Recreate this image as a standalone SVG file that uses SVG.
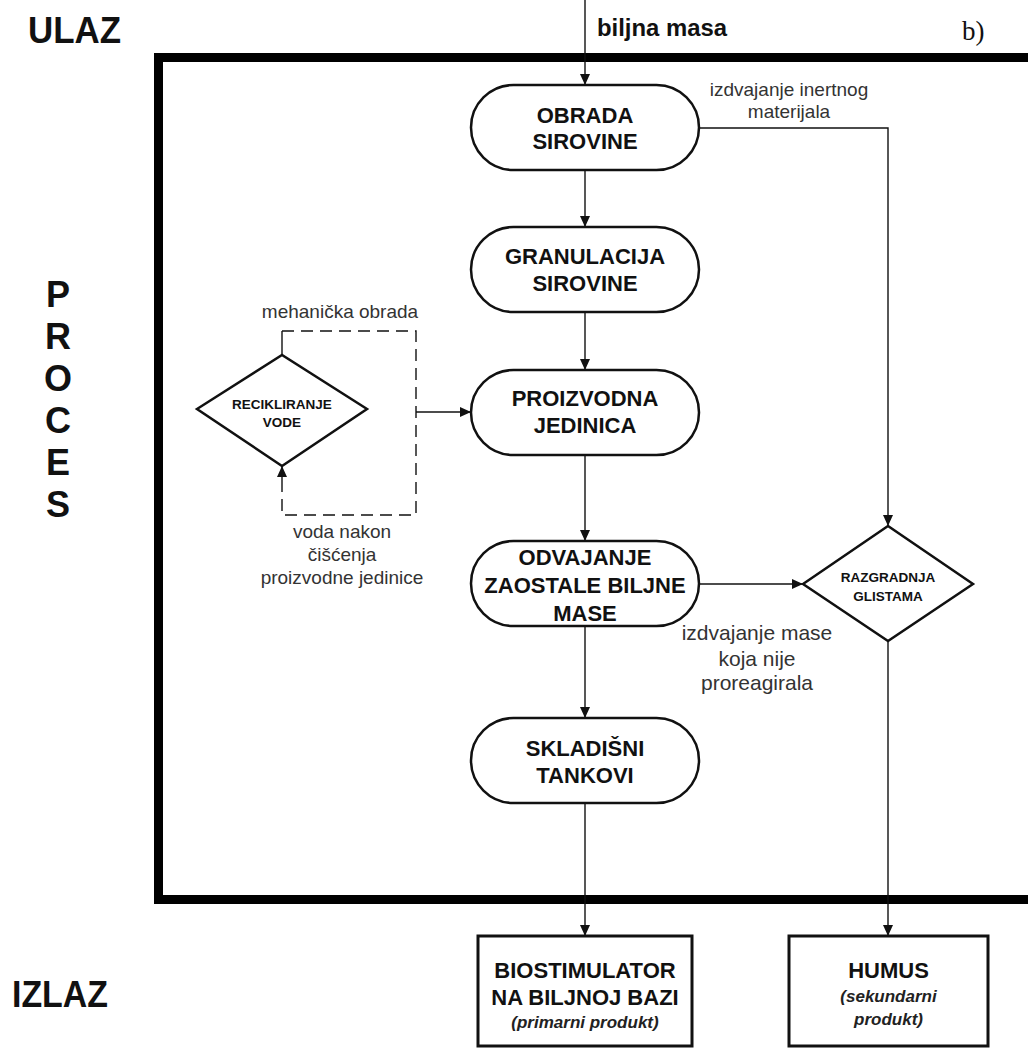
<svg xmlns="http://www.w3.org/2000/svg" width="1028" height="1048" viewBox="0 0 1028 1048">
<style>
  .node { fill: #fff; stroke: #111; stroke-width: 2.5; }
  .box { fill: #fff; stroke: #111; stroke-width: 3; }
  .t { font-family: "Liberation Sans", Arial, sans-serif; font-weight: bold; font-size: 22px; fill: #111; text-anchor: middle; }
  .ts { font-family: "Liberation Sans", Arial, sans-serif; font-weight: bold; font-size: 13.5px; fill: #111; text-anchor: middle; }
  .lab { font-family: "Liberation Sans", Arial, sans-serif; font-size: 19px; fill: #333; text-anchor: middle; }
  .lab2 { font-family: "Liberation Sans", Arial, sans-serif; font-size: 21px; fill: #333; text-anchor: middle; }
  .it { font-family: "Liberation Sans", Arial, sans-serif; font-weight: bold; font-style: italic; font-size: 17px; fill: #222; text-anchor: middle; }
  .big { font-family: "Liberation Sans", Arial, sans-serif; font-weight: bold; font-size: 36px; fill: #111; }
  .side { font-family: "Liberation Sans", Arial, sans-serif; font-weight: bold; font-size: 36px; fill: #111; text-anchor: middle; }
  .ln { fill: none; stroke: #111; stroke-width: 1.4; }
  .dash { fill: none; stroke: #111; stroke-width: 1.4; stroke-dasharray: 12 7; }
</style>
<defs>
  <marker id="ah" markerUnits="userSpaceOnUse" markerWidth="12" markerHeight="10" refX="11" refY="5" orient="auto">
    <path d="M0,0 L11,5 L0,10 z" fill="#111"/>
  </marker>
</defs>
<rect width="1028" height="1048" fill="#fff"/>

<!-- frame -->
<rect x="158.5" y="57.5" width="900" height="842" fill="none" stroke="#000" stroke-width="9"/>

<!-- side labels -->
<g id="labels">
  <text class="big" x="28" y="43" textLength="93" lengthAdjust="spacingAndGlyphs">ULAZ</text>
  <text class="big" x="12" y="1007" textLength="96" lengthAdjust="spacingAndGlyphs">IZLAZ</text>
  <text x="962" y="40" font-family="Liberation Serif, 'Times New Roman', serif" font-size="27" fill="#111">b)</text>
  <text class="t" x="597" y="36" style="text-anchor:start;font-size:23px" textLength="130" lengthAdjust="spacingAndGlyphs">biljna masa</text>
  <text class="side" x="58" y="307">P</text>
  <text class="side" x="58" y="349">R</text>
  <text class="side" x="58" y="391">O</text>
  <text class="side" x="58" y="433">C</text>
  <text class="side" x="58" y="475">E</text>
  <text class="side" x="58" y="517">S</text>
</g>

<!-- connectors -->
<g id="connectors">
  <line class="ln" x1="585" y1="0" x2="585" y2="85" marker-end="url(#ah)"/>
  <line class="ln" x1="585" y1="170" x2="585" y2="227" marker-end="url(#ah)"/>
  <line class="ln" x1="585" y1="312" x2="585" y2="370" marker-end="url(#ah)"/>
  <line class="ln" x1="585" y1="455" x2="585" y2="541" marker-end="url(#ah)"/>
  <line class="ln" x1="585" y1="626" x2="585" y2="718" marker-end="url(#ah)"/>
  <line class="ln" x1="585" y1="803" x2="585" y2="936" marker-end="url(#ah)"/>
  <polyline class="ln" points="699,128 888,128 888,526" marker-end="url(#ah)"/>
  <line class="ln" x1="699" y1="584" x2="803" y2="584" marker-end="url(#ah)"/>
  <line class="ln" x1="888" y1="641" x2="888" y2="936" marker-end="url(#ah)"/>
  <line class="ln" x1="282" y1="355" x2="282" y2="331"/>
  <polyline class="dash" points="282,331 416,331 416,515 282,515 282,478"/>
  <line class="ln" x1="282" y1="480" x2="282" y2="466" marker-end="url(#ah)"/>
  <line class="ln" x1="416" y1="412" x2="471" y2="412" marker-end="url(#ah)"/>
  <text class="lab" x="789" y="96">izdvajanje inertnog</text>
  <text class="lab" x="789" y="118">materijala</text>
  <text class="lab" x="340" y="318">mehanička obrada</text>
  <text class="lab" x="342" y="538">voda nakon</text>
  <text class="lab" x="342" y="561">čišćenja</text>
  <text class="lab" x="342" y="584">proizvodne jedinice</text>
  <text class="lab2" x="757" y="640">izdvajanje mase</text>
  <text class="lab2" x="757" y="666">koja nije</text>
  <text class="lab2" x="757" y="690">proreagirala</text>
</g>

<g id="obrada">
  <rect class="node" x="471" y="85" width="228" height="85" rx="42.5"/>
  <text class="t" x="585" y="123">OBRADA</text>
  <text class="t" x="585" y="149">SIROVINE</text>
</g>
<g id="granulacija">
  <rect class="node" x="471" y="227" width="228" height="85" rx="42.5"/>
  <text class="t" x="585" y="264">GRANULACIJA</text>
  <text class="t" x="585" y="291">SIROVINE</text>
</g>
<g id="proizvodna">
  <rect class="node" x="471" y="370" width="228" height="85" rx="42.5"/>
  <text class="t" x="585" y="406">PROIZVODNA</text>
  <text class="t" x="585" y="433">JEDINICA</text>
</g>
<g id="odvajanje">
  <rect class="node" x="471" y="541" width="228" height="85" rx="42.5"/>
  <text class="t" x="585" y="565">ODVAJANJE</text>
  <text class="t" x="585" y="593">ZAOSTALE BILJNE</text>
  <text class="t" x="585" y="621">MASE</text>
</g>
<g id="skladisni">
  <rect class="node" x="471" y="718" width="228" height="85" rx="42.5"/>
  <text class="t" x="585" y="756">SKLADIŠNI</text>
  <text class="t" x="585" y="783">TANKOVI</text>
</g>
<g id="recikliranje">
  <polygon class="node" points="197,409 282,355 367,409 282,466"/>
  <text class="ts" x="282" y="409">RECIKLIRANJE</text>
  <text class="ts" x="282" y="427">VODE</text>
</g>
<g id="razgradnja">
  <polygon class="node" points="803,584 888,526 973,584 888,641"/>
  <text class="ts" x="888" y="582">RAZGRADNJA</text>
  <text class="ts" x="888" y="601">GLISTAMA</text>
</g>
<g id="biostimulator">
  <rect class="box" x="478" y="936" width="214" height="110"/>
  <text class="t" x="585" y="978">BIOSTIMULATOR</text>
  <text class="t" x="585" y="1005">NA BILJNOJ BAZI</text>
  <text class="it" x="585" y="1028">(primarni produkt)</text>
</g>
<g id="humus">
  <rect class="box" x="789" y="936" width="199" height="110"/>
  <text class="t" x="888.5" y="978">HUMUS</text>
  <text class="it" x="888.5" y="1002">(sekundarni</text>
  <text class="it" x="888.5" y="1025">produkt)</text>
</g>
</svg>
